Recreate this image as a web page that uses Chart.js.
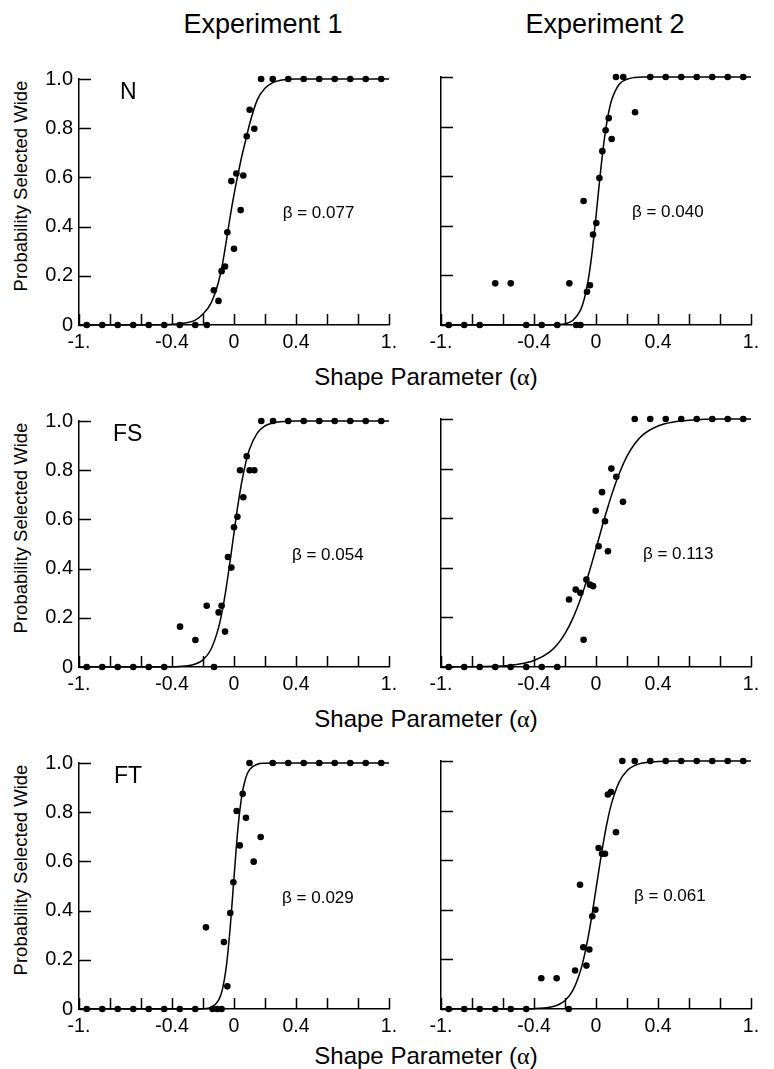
<!DOCTYPE html>
<html>
<head>
<meta charset="utf-8">
<script src="https://cdn.jsdelivr.net/npm/chart.js@4.4.1/dist/chart.umd.min.js"></script>
<style>
  body { margin: 0; background: #fff; }
  #page { position: relative; width: 774px; height: 1069px; overflow: hidden;
          font-family: "Liberation Sans", Arial, Helvetica, sans-serif; color: #000; }
  #page canvas { position: absolute; }
  .txt { position: absolute; white-space: nowrap; text-align: center; }
  .greek { font-family: "Liberation Serif", "DejaVu Serif", serif; }
</style>
</head>
<body>
<div id="page"></div>
<script>
// tick labels
const xLabelValues = [-1, -0.4, 0, 0.4, 1];
const xLabelText = ['-1.', '-0.4', '0', '0.4', '1.'];
const yLabelValues = [0, 0.2, 0.4, 0.6, 0.8, 1];
const yLabelText = ['0', '0.2', '0.4', '0.6', '0.8', '1.0'];

// alpha grid the fitted curves are read at
const curveAlpha = [-1, -0.6, -0.5, -0.4, -0.3, -0.25, -0.2, -0.15, -0.1, -0.075, -0.05, -0.025, 0,
  0.025, 0.05, 0.075, 0.1, 0.15, 0.2, 0.25, 0.3, 0.4, 0.5, 0.6, 0.8, 1];

// Experiment 1, N
const e1nAlpha = [-0.95, -0.85, -0.75, -0.65, -0.55, -0.45, -0.35, -0.25, -0.175, -0.13, -0.1, -0.08, -0.058,
  -0.043, -0.017, 0.0, 0.015, 0.043, 0.06, 0.082, 0.101, 0.131, 0.175, 0.25, 0.35, 0.45, 0.55, 0.65, 0.75, 0.85, 0.95];
const e1nProb = [0, 0, 0, 0, 0, 0, 0, 0, 0, 0.141, 0.098, 0.219, 0.238, 0.377, 0.585, 0.31, 0.616, 0.467, 0.608,
  0.767, 0.875, 0.798, 1, 1, 1, 1, 1, 1, 1, 1, 1];
const e1nCurve = [0, 0, 0.001, 0.003, 0.01, 0.02, 0.045, 0.087, 0.175, 0.245, 0.34, 0.44, 0.53,
  0.61, 0.685, 0.75, 0.815, 0.915, 0.962, 0.985, 0.995, 1, 1, 1, 1, 1];

// Experiment 2, N
const e2nAlpha = [-0.95, -0.85, -0.75, -0.65, -0.55, -0.45, -0.35, -0.25, -0.172, -0.128, -0.1, -0.08, -0.058,
  -0.039, -0.019, 0.002, 0.022, 0.041, 0.062, 0.082, 0.101, 0.129, 0.176, 0.252, 0.35, 0.45, 0.55, 0.65, 0.75, 0.85, 0.95];
const e2nProb = [0, 0, 0, 0.168, 0.168, 0, 0, 0, 0.168, 0, 0, 0.5, 0.134, 0.16, 0.365, 0.411, 0.593, 0.701,
  0.785, 0.834, 0.75, 1, 1, 0.858, 1, 1, 1, 1, 1, 1, 1];
const e2nCurve = [0, 0, 0, 0, 0, 0.0015, 0.005, 0.018, 0.06, 0.107, 0.182, 0.294, 0.438,
  0.593, 0.731, 0.835, 0.905, 0.971, 0.991, 0.998, 1, 1, 1, 1, 1, 1];

// Experiment 1, FS
const e1fsAlpha = [-0.95, -0.85, -0.75, -0.65, -0.55, -0.45, -0.348, -0.249, -0.176, -0.129, -0.099, -0.08, -0.058,
  -0.039, -0.017, 0.0, 0.022, 0.039, 0.06, 0.082, 0.101, 0.131, 0.176, 0.252, 0.35, 0.45, 0.55, 0.65, 0.75, 0.85, 0.95];
const e1fsProb = [0, 0, 0, 0, 0, 0, 0.164, 0.11, 0.249, 0, 0.222, 0.249, 0.144, 0.447, 0.404, 0.568, 0.611,
  0.8, 0.69, 0.857, 0.8, 0.8, 1, 1, 1, 1, 1, 1, 1, 1, 1];
const e1fsCurve = [0, 0, 0, 0.001, 0.005, 0.012, 0.029, 0.07, 0.159, 0.231, 0.323, 0.431, 0.546,
  0.657, 0.752, 0.828, 0.885, 0.951, 0.98, 0.992, 0.997, 1, 1, 1, 1, 1];

// Experiment 2, FS
const e2fsAlpha = [-0.95, -0.85, -0.75, -0.65, -0.55, -0.45, -0.35, -0.25, -0.174, -0.131, -0.101, -0.08, -0.062,
  -0.039, -0.019, -0.002, 0.017, 0.039, 0.058, 0.077, 0.099, 0.131, 0.174, 0.25, 0.35, 0.45, 0.55, 0.65, 0.75, 0.85, 0.95];
const e2fsProb = [0, 0, 0, 0, 0, 0, 0, 0, 0.272, 0.312, 0.299, 0.11, 0.353, 0.332, 0.326, 0.63, 0.487, 0.705,
  0.588, 0.467, 0.8, 0.767, 0.666, 1, 1, 1, 1, 1, 1, 1, 1];
const e2fsCurve = [0, 0.0045, 0.011, 0.026, 0.06, 0.091, 0.135, 0.195, 0.274, 0.32, 0.37, 0.423, 0.478,
  0.533, 0.59, 0.642, 0.692, 0.78, 0.85, 0.9, 0.935, 0.972, 0.988, 0.995, 1, 1];

// Experiment 1, FT
const e1ftAlpha = [-0.95, -0.85, -0.75, -0.65, -0.55, -0.45, -0.35, -0.25, -0.181, -0.138, -0.108, -0.08, -0.065,
  -0.043, -0.024, -0.004, 0.017, 0.037, 0.056, 0.077, 0.1, 0.127, 0.172, 0.25, 0.35, 0.45, 0.55, 0.65, 0.75, 0.85, 0.95];
const e1ftProb = [0, 0, 0, 0, 0, 0, 0, 0, 0.332, 0, 0, 0, 0.272, 0.092, 0.39, 0.515, 0.805, 0.665, 0.875,
  0.777, 1, 0.599, 0.699, 1, 1, 1, 1, 1, 1, 1, 1];
const e1ftCurve = [0, 0, 0, 0, 0, 0, 0.001, 0.0065, 0.035, 0.079, 0.17, 0.327, 0.534,
  0.731, 0.865, 0.938, 0.973, 0.995, 0.999, 1, 1, 1, 1, 1, 1, 1];

// Experiment 2, FT
const e2ftAlpha = [-0.95, -0.85, -0.75, -0.65, -0.55, -0.45, -0.353, -0.254, -0.176, -0.135, -0.103, -0.082, -0.062,
  -0.043, -0.024, -0.004, 0.017, 0.039, 0.058, 0.077, 0.097, 0.129, 0.17, 0.25, 0.35, 0.45, 0.55, 0.65, 0.75, 0.85, 0.95];
const e2ftProb = [0, 0, 0, 0, 0, 0, 0.124, 0.124, 0, 0.155, 0.501, 0.249, 0.175, 0.24, 0.374, 0.4, 0.649,
  0.626, 0.626, 0.865, 0.875, 0.713, 1, 1, 1, 1, 1, 1, 1, 1, 1];
const e2ftCurve = [0, 0, 0, 0.0013, 0.007, 0.015, 0.034, 0.074, 0.154, 0.215, 0.292, 0.383, 0.484,
  0.585, 0.68, 0.762, 0.828, 0.916, 0.961, 0.982, 0.992, 0.998, 1, 1, 1, 1];

const panelNames = ['N', '', 'FS', '', 'FT', ''];
const betaText = ['β = 0.077', 'β = 0.040', 'β = 0.054', 'β = 0.113', 'β = 0.029', 'β = 0.061'];

const panels = [
  { col: 0, row: 0, alpha: e1nAlpha, prob: e1nProb, curve: e1nCurve, betaAt: [0.314, 0.456], nameX: 41 },
  { col: 1, row: 0, alpha: e2nAlpha, prob: e2nProb, curve: e2nCurve, betaAt: [0.232, 0.456] },
  { col: 0, row: 1, alpha: e1fsAlpha, prob: e1fsProb, curve: e1fsCurve, betaAt: [0.374, 0.456], nameX: 34 },
  { col: 1, row: 1, alpha: e2fsAlpha, prob: e2fsProb, curve: e2fsCurve, betaAt: [0.303, 0.456] },
  { col: 0, row: 2, alpha: e1ftAlpha, prob: e1ftProb, curve: e1ftCurve, betaAt: [0.31, 0.448], nameX: 35 },
  { col: 1, row: 2, alpha: e2ftAlpha, prob: e2ftProb, curve: e2ftCurve, betaAt: [0.245, 0.456] },
];

const FONT = '"Liberation Sans", Arial, Helvetica, sans-serif';
const cols = [
  { left: 0, width: 410, yWidth: 79, padRight: 21 },
  { left: 420, width: 354, yWidth: 21, padRight: 23 },
];
const rowTops = [77, 419, 761];
const xTitleGap = [40, 40, 35];
const PAD_TOP = 16, PLOT_H = 248, X_H = 30;

// inward tick marks
const inwardTicks = {
  id: 'inwardTicks',
  beforeDatasetsDraw(chart) {
    const { ctx, chartArea, scales: { x, y } } = chart;
    ctx.save();
    ctx.strokeStyle = '#000';
    ctx.lineWidth = 1.5;
    ctx.beginPath();
    x.ticks.forEach(t => {
      const px = Math.round(x.getPixelForValue(t.value)) + 0.5;
      ctx.moveTo(px, chartArea.bottom);
      ctx.lineTo(px, chartArea.bottom - 11);
    });
    y.ticks.forEach(t => {
      const py = Math.round(y.getPixelForValue(t.value)) + 0.5;
      ctx.moveTo(chartArea.left, py);
      ctx.lineTo(chartArea.left + 12, py);
    });
    ctx.stroke();
    ctx.restore();
  }
};

const panelText = {
  id: 'panelText',
  afterDraw(chart, args, opts) {
    const { ctx, chartArea, scales: { x, y } } = chart;
    ctx.save();
    ctx.fillStyle = '#000';
    if (opts.name) {
      ctx.font = '23px ' + FONT;
      ctx.textAlign = 'left';
      ctx.textBaseline = 'alphabetic';
      ctx.fillText(opts.name, chartArea.left + opts.nameX, chartArea.top + 20);
    }
    ctx.font = '17px ' + FONT;
    ctx.textAlign = 'left';
    ctx.textBaseline = 'middle';
    ctx.fillText(opts.beta, x.getPixelForValue(opts.betaAt[0]), y.getPixelForValue(opts.betaAt[1]));
    ctx.restore();
  }
};

const page = document.getElementById('page');

function addText(html, style) {
  const d = document.createElement('div');
  d.className = 'txt';
  d.innerHTML = html;
  Object.assign(d.style, style);
  page.appendChild(d);
}

addText('Experiment 1', { left: '163px', width: '200px', top: '11px', fontSize: '27px', lineHeight: '27px' });
addText('Experiment 2', { left: '505px', width: '200px', top: '11px', fontSize: '27px', lineHeight: '27px' });

rowTops.forEach((top, r) => {
  const base = top + PLOT_H;
  addText('Shape Parameter (<span class="greek">α</span>)',
    { left: '276px', width: '300px', top: (base + xTitleGap[r]) + 'px', fontSize: '24px', lineHeight: '24px' });
  addText('Probability Selected Wide',
    { left: (21 - 130) + 'px', width: '260px', top: (top + 109 - 11) + 'px', height: '22px',
      fontSize: '18.5px', lineHeight: '22px', transform: 'rotate(-90deg)' });
});

panels.forEach((p, i) => {
  const c = cols[p.col];
  const canvas = document.createElement('canvas');
  canvas.width = c.width;
  canvas.height = PAD_TOP + PLOT_H + X_H;
  canvas.style.left = c.left + 'px';
  canvas.style.top = (rowTops[p.row] - PAD_TOP) + 'px';
  page.appendChild(canvas);

  new Chart(canvas, {
    type: 'scatter',
    data: {
      datasets: [
        {
          data: p.alpha.map((a, k) => ({ x: a, y: p.prob[k] })),
          pointRadius: 3.3,
          pointHoverRadius: 3.3,
          pointBackgroundColor: '#000',
          pointBorderWidth: 0,
          clip: false,
        },
        {
          data: curveAlpha.map((a, k) => ({ x: a, y: p.curve[k] })),
          showLine: true,
          pointRadius: 0,
          borderColor: '#000',
          borderWidth: 1.5,
          cubicInterpolationMode: 'monotone',
          fill: false,
          clip: false,
        },
      ]
    },
    options: {
      responsive: false,
      animation: false,
      events: [],
      layout: { padding: { top: PAD_TOP, right: c.padRight, left: 0, bottom: 0 } },
      plugins: {
        legend: { display: false },
        tooltip: { enabled: false },
        panelText: { name: panelNames[i], nameX: p.nameX || 0, beta: betaText[i], betaAt: p.betaAt },
      },
      scales: {
        x: {
          type: 'linear', min: -1, max: 1,
          grid: { display: false, drawTicks: false },
          border: { display: true, color: '#000', width: 1.5 },
          ticks: {
            stepSize: 0.2, autoSkip: false, maxRotation: 0, padding: 6,
            color: '#000', font: { family: FONT, size: 19.5 },
            callback: v => {
              const k = xLabelValues.findIndex(t => Math.abs(t - v) < 1e-6);
              return k < 0 ? '' : xLabelText[k];
            }
          },
          afterFit: s => { s.height = X_H; },
        },
        y: {
          type: 'linear', min: 0, max: 1,
          grid: { display: false, drawTicks: false },
          border: { display: true, color: '#000', width: 1.5 },
          ticks: {
            stepSize: 0.2, padding: 6, display: p.col === 0,
            color: '#000', font: { family: FONT, size: 20 },
            callback: v => {
              const k = yLabelValues.findIndex(t => Math.abs(t - v) < 1e-6);
              return k < 0 ? '' : yLabelText[k];
            }
          },
          afterFit: s => { s.width = c.yWidth; },
        },
      },
    },
    plugins: [inwardTicks, panelText],
  });
});
</script>
</body>
</html>
